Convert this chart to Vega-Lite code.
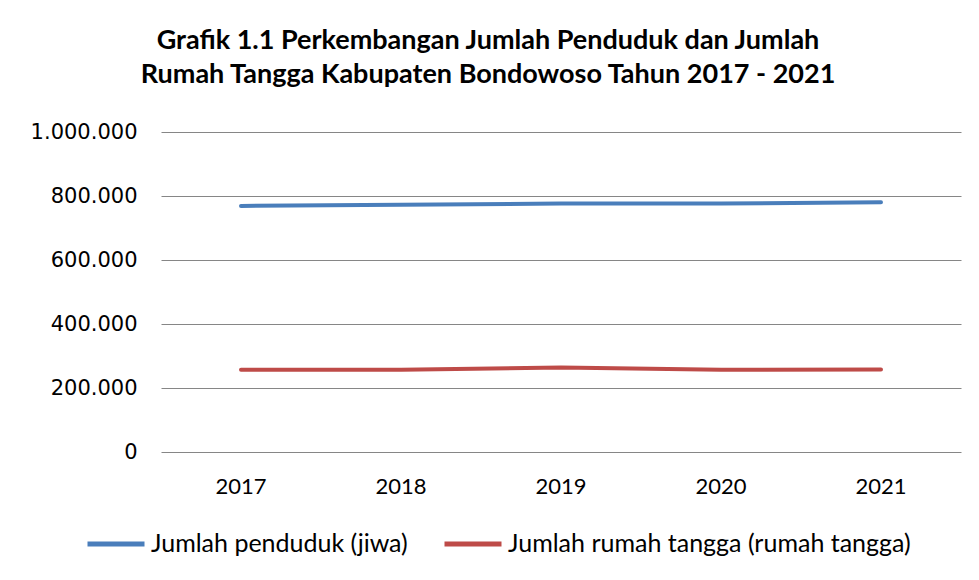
{
  "$schema": "https://vega.github.io/schema/vega-lite/v6.json",
  "width": 800,
  "height": 320,
  "autosize": {"type": "none"},
  "padding": {"left": 161, "top": 132, "right": 18, "bottom": 128},
  "background": "white",
  "config": {
    "locale": {"number": {"decimal": ",", "thousands": ".", "grouping": [3], "currency": ["Rp", ""]}},
    "view": {"stroke": null},
    "font": "Lato"
  },
  "title": {
    "text": ["Grafik 1.1 Perkembangan Jumlah Penduduk dan Jumlah", "Rumah Tangga Kabupaten Bondowoso Tahun 2017 - 2021"],
    "font": "Lato",
    "fontSize": 27,
    "fontWeight": "bold",
    "color": "#000000",
    "lineHeight": 34,
    "anchor": "middle",
    "frame": "group",
    "dx": -73,
    "offset": 32
  },
  "data": {
    "values": [
      {"tahun": "2017", "seri": "Jumlah penduduk (jiwa)", "nilai": 768900},
      {"tahun": "2018", "seri": "Jumlah penduduk (jiwa)", "nilai": 772300},
      {"tahun": "2019", "seri": "Jumlah penduduk (jiwa)", "nilai": 776200},
      {"tahun": "2020", "seri": "Jumlah penduduk (jiwa)", "nilai": 776200},
      {"tahun": "2021", "seri": "Jumlah penduduk (jiwa)", "nilai": 780500},
      {"tahun": "2017", "seri": "Jumlah rumah tangga (rumah tangga)", "nilai": 257000},
      {"tahun": "2018", "seri": "Jumlah rumah tangga (rumah tangga)", "nilai": 257000},
      {"tahun": "2019", "seri": "Jumlah rumah tangga (rumah tangga)", "nilai": 264000},
      {"tahun": "2020", "seri": "Jumlah rumah tangga (rumah tangga)", "nilai": 257000},
      {"tahun": "2021", "seri": "Jumlah rumah tangga (rumah tangga)", "nilai": 257500}
    ]
  },
  "mark": {"type": "line", "strokeWidth": 4, "strokeCap": "round", "strokeJoin": "round"},
  "encoding": {
    "x": {
      "field": "tahun",
      "type": "ordinal",
      "scale": {"type": "band", "paddingInner": 0, "paddingOuter": 0},
      "axis": {
        "title": null,
        "domain": false,
        "ticks": false,
        "grid": false,
        "labelAngle": 0,
        "labelFont": "Lato",
        "labelFontSize": 22,
        "labelColor": "#000000",
        "labelPadding": 24
      }
    },
    "y": {
      "field": "nilai",
      "type": "quantitative",
      "scale": {"domain": [0, 1000000], "nice": false},
      "axis": {
        "title": null,
        "values": [0, 200000, 400000, 600000, 800000, 1000000],
        "format": ",d",
        "domain": false,
        "ticks": false,
        "grid": true,
        "gridColor": "#868686",
        "gridWidth": 1,
        "gridOpacity": 1,
        "labelFont": "DejaVu Sans",
        "labelFontSize": 21,
        "labelColor": "#000000",
        "labelPadding": 24
      }
    },
    "color": {
      "field": "seri",
      "type": "nominal",
      "scale": {
        "domain": ["Jumlah penduduk (jiwa)", "Jumlah rumah tangga (rumah tangga)"],
        "range": ["#4A7EBB", "#BE4B48"]
      },
      "legend": {
        "title": null,
        "orient": "none",
        "direction": "horizontal",
        "legendX": -76,
        "legendY": 381,
        "symbolType": "stroke",
        "symbolSize": 3249,
        "symbolStrokeWidth": 5,
        "labelFont": "Lato",
        "labelFontSize": 25,
        "labelColor": "#000000",
        "labelOffset": 4,
        "columnPadding": 26,
        "labelLimit": 500
      }
    }
  }
}
